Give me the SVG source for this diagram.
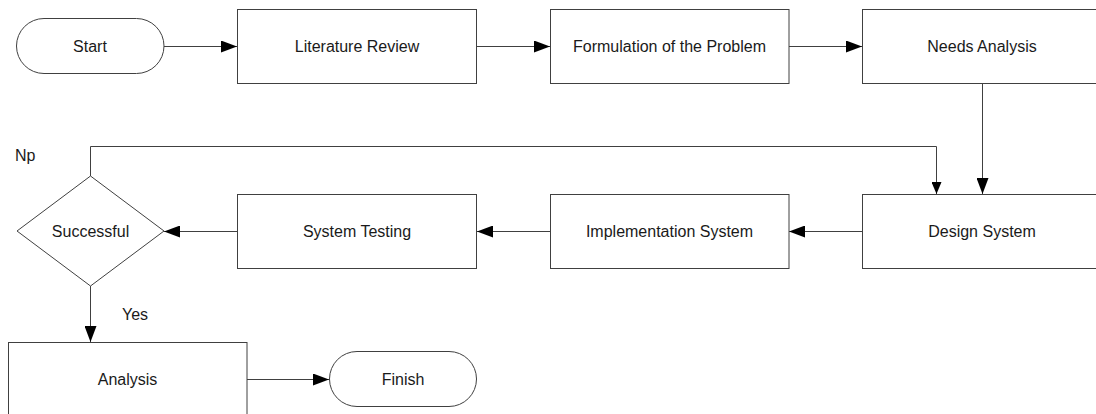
<svg xmlns="http://www.w3.org/2000/svg" width="1096" height="414" viewBox="0 0 1096 414">
<defs>
<style>
.box{fill:#ffffff;stroke:#404040;stroke-width:1}
.ln{fill:none;stroke:#404040;stroke-width:1}
.t{font-family:"Liberation Sans",Arial,sans-serif;font-size:16px;fill:#1a1a1a;text-anchor:middle;dominant-baseline:central}
.l{font-family:"Liberation Sans",Arial,sans-serif;font-size:16px;fill:#1a1a1a}
</style>
<marker id="ah" markerWidth="16" markerHeight="12" refX="16" refY="6" orient="auto" markerUnits="userSpaceOnUse">
<path d="M0,0 L16,6 L0,12 Z" fill="#000"/>
</marker>
<marker id="ahs" markerWidth="12" markerHeight="10" refX="12" refY="5" orient="auto" markerUnits="userSpaceOnUse">
<path d="M0,0 L12,5 L0,10 Z" fill="#000"/>
</marker>
</defs>
<rect width="1096" height="414" fill="#ffffff"/>
<g id="connectors">
<path class="ln" d="M164,46.5 H237" marker-end="url(#ah)"/>
<path class="ln" d="M477,46.5 H550" marker-end="url(#ah)"/>
<path class="ln" d="M789,46.5 H862" marker-end="url(#ah)"/>
<path class="ln" d="M982.5,83 V194" marker-end="url(#ah)"/>
<path class="ln" d="M862,231.5 H789" marker-end="url(#ah)"/>
<path class="ln" d="M550,231.5 H477" marker-end="url(#ah)"/>
<path class="ln" d="M237,231.5 H164" marker-end="url(#ah)"/>
<path class="ln" d="M90.5,176 V146.5 H936.5 V194" marker-end="url(#ahs)"/>
<path class="ln" d="M90.5,286 V342" marker-end="url(#ah)"/>
<path class="ln" d="M247,379.5 H329" marker-end="url(#ah)"/>
</g>
<g id="start">
<rect class="box" x="16.5" y="18.5" width="147.5" height="55" rx="27.5" ry="27.5"/>
<text class="t" x="90" y="46">Start</text>
</g>
<g id="literature-review">
<rect class="box" x="237.5" y="9.5" width="239" height="74"/>
<text class="t" x="357" y="46">Literature Review</text>
</g>
<g id="formulation">
<rect class="box" x="550.5" y="9.5" width="238.5" height="74"/>
<text class="t" x="669.5" y="46">Formulation of the Problem</text>
</g>
<g id="needs-analysis">
<rect class="box" x="862.5" y="9.5" width="240" height="74"/>
<text class="t" x="982" y="46">Needs Analysis</text>
</g>
<g id="design-system">
<rect class="box" x="862.5" y="194.5" width="240" height="74"/>
<text class="t" x="982" y="231">Design System</text>
</g>
<g id="implementation-system">
<rect class="box" x="550.5" y="194.5" width="238.5" height="74"/>
<text class="t" x="669.5" y="231">Implementation System</text>
</g>
<g id="system-testing">
<rect class="box" x="237.5" y="194.5" width="239" height="74"/>
<text class="t" x="357" y="231">System Testing</text>
</g>
<g id="successful">
<path class="box" d="M90.5,176 L164,231 L90.5,286 L17,231 Z"/>
<text class="t" x="90.5" y="231">Successful</text>
</g>
<g id="analysis">
<rect class="box" x="8.5" y="342.5" width="238.5" height="74"/>
<text class="t" x="127.5" y="379">Analysis</text>
</g>
<g id="finish">
<rect class="box" x="329.5" y="351.5" width="147" height="55" rx="27.5" ry="27.5"/>
<text class="t" x="403" y="379">Finish</text>
</g>
<g id="labels">
<text class="l" x="15" y="161">Np</text>
<text class="l" x="122" y="320">Yes</text>
</g>
</svg>
